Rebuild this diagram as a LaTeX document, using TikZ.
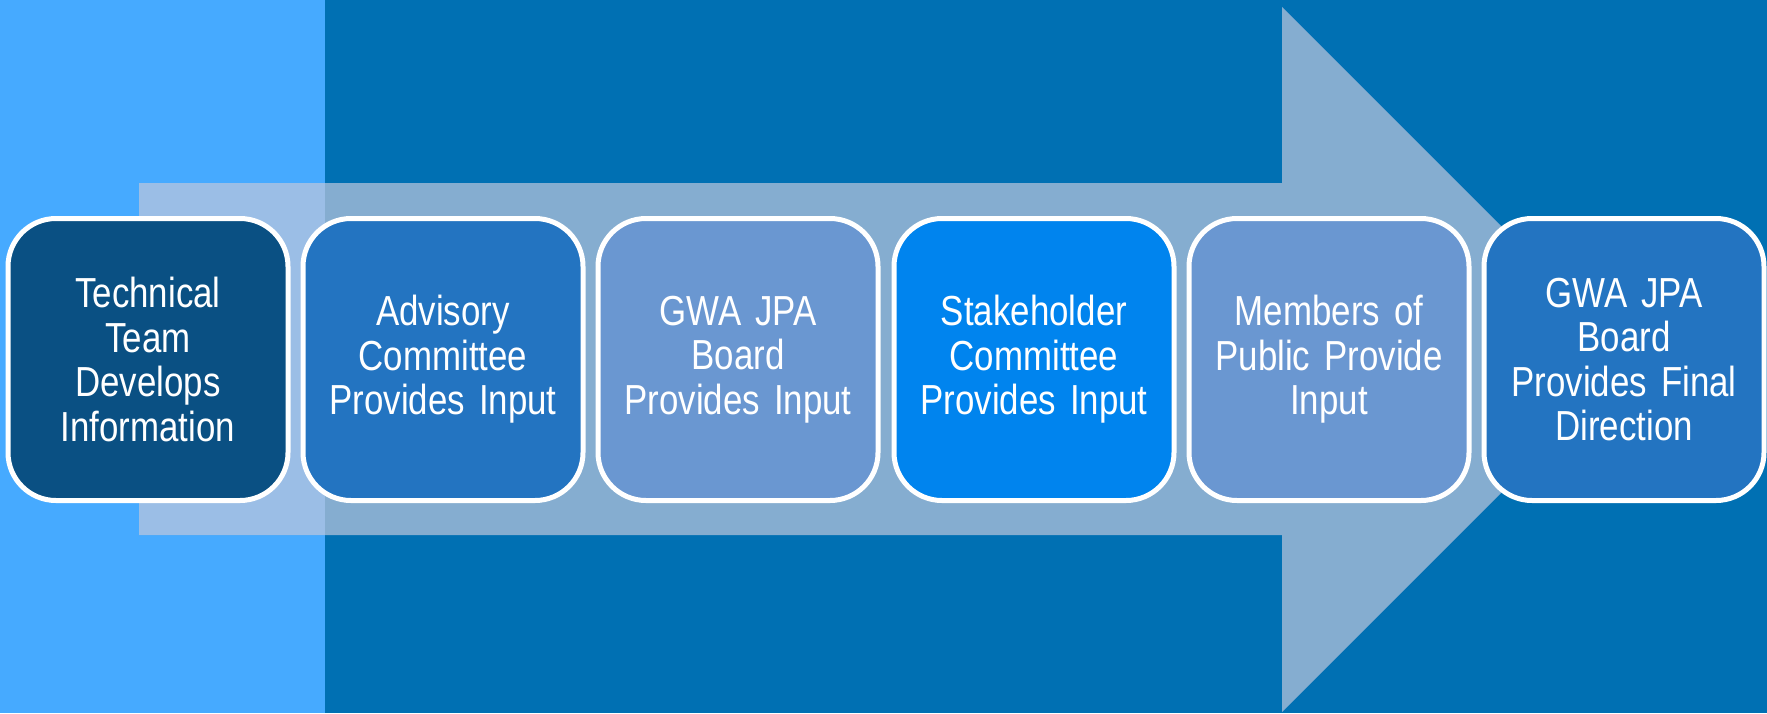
\documentclass[tikz,border=0pt]{standalone}
\usepackage{fontspec}
\setmainfont{Liberation Sans}
\newfontfamily\boxfont[FakeStretch=0.83,WordSpace=0.7]{Liberation Sans}
\definecolor{bgLight}{HTML}{46AAFF}
\definecolor{bgDark}{HTML}{0070B3}
\definecolor{arrLight}{HTML}{9BBEE6}
\definecolor{arrDark}{HTML}{85ADD0}
\definecolor{cNavy}{HTML}{0A5083}
\definecolor{cMid}{HTML}{2374C1}
\definecolor{cSoft}{HTML}{6A97D1}
\definecolor{cBright}{HTML}{0084EE}
\tikzset{
  stepbox/.style={draw=white, line width=5pt, rounded corners=48pt,
    minimum width=280pt, minimum height=282pt, inner sep=0pt,
    text=white, align=center, text width=266pt,
    font=\boxfont\fontsize{42}{44.5}\selectfont}
}
\begin{document}
\begin{tikzpicture}[x=1pt,y=-1pt]
\useasboundingbox (0,0) rectangle (1767,713);
% background
\fill[bgDark] (0,0) rectangle (1767,713);
\fill[bgLight] (0,0) rectangle (325,713);
% arrow
\coordinate (a1) at (139,183);
\coordinate (a2) at (1282,183);
\coordinate (a3) at (1282,7);
\coordinate (a4) at (1634.5,359.5);
\coordinate (a5) at (1282,712);
\coordinate (a6) at (1282,535);
\coordinate (a7) at (139,535);
\fill[arrDark] (a1) -- (a2) -- (a3) -- (a4) -- (a5) -- (a6) -- (a7) -- cycle;
\fill[arrLight] (139,183) rectangle (325,535);
% boxes
\node[stepbox, fill=cNavy]   (b1) at (148,359.5)  {Technical\\Team\\Develops\\Information};
\node[stepbox, fill=cMid]    (b2) at (443,359.5)  {Advisory\\Committee\\Provides Input};
\node[stepbox, fill=cSoft]   (b3) at (738,359.5)  {GWA JPA\\Board\\Provides Input};
\node[stepbox, fill=cBright] (b4) at (1034,359.5) {Stakeholder\\Committee\\Provides Input};
\node[stepbox, fill=cSoft]   (b5) at (1329,359.5) {Members of\\Public Provide\\Input};
\node[stepbox, fill=cMid]    (b6) at (1624,359.5) {GWA JPA\\Board\\Provides Final\\Direction};
\end{tikzpicture}
\end{document}
